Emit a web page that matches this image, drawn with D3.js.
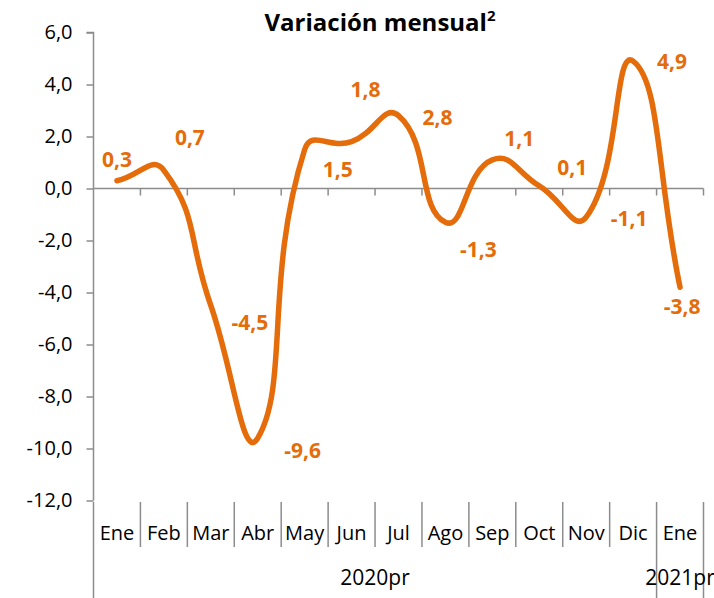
<!DOCTYPE html>
<html>
<head>
<meta charset="utf-8">
<script src="https://cdn.jsdelivr.net/npm/d3@7"></script>
<style>
  html, body { margin: 0; padding: 0; background: #fff; overflow: hidden; }
  svg { display: block; }
  text { font-family: "Open Sans", "Noto Sans", sans-serif; }
</style>
</head>
<body>
<svg id="chart" width="714" height="598"></svg>
<script>
// ---- Data ----
const months = ["Ene","Feb","Mar","Abr","May","Jun","Jul","Ago","Sep","Oct","Nov","Dic","Ene"];
const years = ["2020pr","2020pr","2020pr","2020pr","2020pr","2020pr","2020pr","2020pr","2020pr","2020pr","2020pr","2020pr","2021pr"];
const values = [0.3, 0.7, -4.5, -9.6, 1.5, 1.8, 2.8, -1.3, 1.1, 0.1, -1.1, 4.9, -3.8];
const yTicks = [6, 4, 2, 0, -2, -4, -6, -8, -10, -12];
const title = "Variación mensual";

// ---- Layout (not data) ----
const labelOffsets = [[0,-21],[26,-33],[39,17],[45,13],[33,20],[14,-52],[39,2],[33,27],[27,-21],[33,-18],[43,2],[39,1],[2,19]];
const orange = "#E46C0A";
const grey = "#8C8C8C";

// Excel-like smoothed line curve (Bezier with distance-weighted tangents)
function curveExcel(context) {
  let pts = [];
  return {
    areaStart() {}, areaEnd() {},
    lineStart() { pts = []; },
    point(px, py) { pts.push([+px, +py]); },
    lineEnd() {
      const n = pts.length;
      if (!n) return;
      context.moveTo(pts[0][0], pts[0][1]);
      const t = 0.5;
      const dist = (a, b) => Math.hypot(b[0] - a[0], b[1] - a[1]);
      for (let i = 0; i < n - 1; i++) {
        const p0 = pts[Math.max(i - 1, 0)], p1 = pts[i], p2 = pts[i + 1], p3 = pts[Math.min(i + 2, n - 1)];
        const d01 = dist(p0, p1), d12 = dist(p1, p2), d23 = dist(p2, p3);
        const f1 = d12 / ((d01 + d12) || 1), f2 = d12 / ((d12 + d23) || 1);
        const c1 = [p1[0] + t * f1 * (p2[0] - p0[0]), p1[1] + t * f1 * (p2[1] - p0[1])];
        const c2 = [p2[0] - t * f2 * (p3[0] - p1[0]), p2[1] - t * f2 * (p3[1] - p1[1])];
        context.bezierCurveTo(c1[0], c1[1], c2[0], c2[1], p2[0], p2[1]);
      }
    }
  };
}

const svg = d3.select("#chart");
const idx = d3.range(months.length);
const x = d3.scaleBand().domain(idx).range([93.5, 703.5]).paddingInner(0).paddingOuter(0);
const y = d3.scaleLinear().domain([-12, 6]).range([500.5, 32.5]);
const fmt = v => d3.format(".1f")(v).replace(".", ",").replace("−", "-");

// Title
const t = svg.append("text").attr("x", 380).attr("y", 31).attr("text-anchor", "middle")
  .attr("font-size", 24).attr("font-weight", "bold").attr("fill", "#000").text(title);
t.append("tspan").attr("font-size", 15).attr("dy", -10).text("2");

// Y axis
const yAxis = d3.axisLeft(y).tickValues(yTicks).tickSize(7).tickPadding(14).tickFormat(fmt);
const gy = svg.append("g").attr("transform", "translate(93.5,0)").call(yAxis);
gy.select(".domain").attr("stroke", grey).attr("stroke-width", 1.5).attr("d", `M-7,${y(6)}H0V${y(-12)}`);
gy.selectAll(".tick line").attr("stroke", grey).attr("stroke-width", 1.5);
gy.selectAll(".tick text").attr("font-size", 20).attr("fill", "#000")
  .attr("font-family", "'Open Sans', sans-serif");

// X axis at zero: line + ticks at band boundaries
const boundaries = d3.range(months.length + 1).map(i => 93.5 + i * x.bandwidth());
svg.append("line").attr("x1", 93.5).attr("x2", 703.5).attr("y1", y(0)).attr("y2", y(0))
  .attr("stroke", grey).attr("stroke-width", 1.5);
svg.append("g").selectAll("line").data(boundaries.slice(1)).join("line")
  .attr("x1", d => d).attr("x2", d => d).attr("y1", y(0)).attr("y2", y(0) + 7)
  .attr("stroke", grey).attr("stroke-width", 1.5);

// Category separators at the bottom
const groupEdges = [0];
idx.forEach(i => { if (i > 0 && years[i] !== years[i - 1]) groupEdges.push(i); });
groupEdges.push(months.length);
svg.append("g").selectAll("line").data(d3.range(months.length + 1)).join("line")
  .attr("x1", i => boundaries[i]).attr("x2", i => boundaries[i])
  .attr("y1", 502).attr("y2", i => groupEdges.includes(i) ? 598 : 547)
  .attr("stroke", grey).attr("stroke-width", 1.5);

// Month labels
svg.append("g").selectAll("text").data(idx).join("text")
  .attr("x", i => x(i) + x.bandwidth() / 2).attr("y", 540)
  .attr("text-anchor", "middle").attr("font-size", 20).attr("fill", "#000")
  .text(i => months[i]);

// Year group labels
const groups = [];
for (let g = 0; g < groupEdges.length - 1; g++) {
  groups.push({ name: years[groupEdges[g]], x0: boundaries[groupEdges[g]], x1: boundaries[groupEdges[g + 1]] });
}
svg.append("g").selectAll("text").data(groups).join("text")
  .attr("x", d => (d.x0 + d.x1) / 2).attr("y", 585)
  .attr("text-anchor", "middle").attr("font-size", 21).attr("fill", "#000")
  .text(d => d.name);

// Line
const line = d3.line()
  .x((d, i) => x(i) + x.bandwidth() / 2)
  .y(d => y(d))
  .curve(curveExcel);
svg.append("path").datum(values).attr("d", line)
  .attr("fill", "none").attr("stroke", orange).attr("stroke-width", 5.5)
  .attr("stroke-linecap", "round").attr("stroke-linejoin", "round");

// Data labels
svg.append("g").selectAll("text").data(values).join("text")
  .attr("x", (d, i) => x(i) + x.bandwidth() / 2 + labelOffsets[i][0])
  .attr("y", (d, i) => y(d) + labelOffsets[i][1])
  .attr("dy", "0.35em")
  .attr("text-anchor", "middle").attr("font-size", 21).attr("font-weight", "bold")
  .attr("fill", orange)
  .text(d => fmt(d));
</script>
</body>
</html>
